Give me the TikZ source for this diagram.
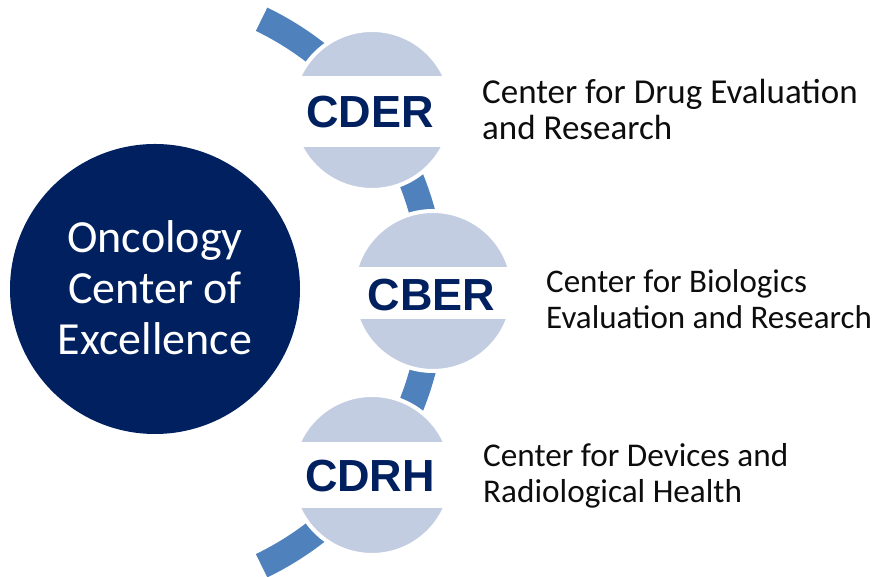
\documentclass[tikz,border=0pt]{standalone}
\usepackage{fontspec}
\setmainfont{Carlito}
\newfontfamily\lsans{Liberation Sans}
\definecolor{navy}{HTML}{002060}
\definecolor{lightblue}{HTML}{C3CDE2}
\definecolor{arcblue}{HTML}{4F81BD}
\definecolor{txt}{HTML}{0D0D0D}
\begin{document}
\begin{tikzpicture}[x=1pt,y=1pt,
  bubble/.style={circle, fill=lightblue, draw=white, line width=4pt, minimum size=160pt, inner sep=0pt},
  abbr/.style={font=\lsans\bfseries\fontsize{45}{50}\selectfont, text=navy, inner sep=0pt},
  desc/.style={text=txt, align=left, anchor=base west, inner sep=0pt},
]
\useasboundingbox (0,0) rectangle (878,577);
% blue arc
\draw[arcblue, line width=26pt] (129.5,284.5) ++(-64.2:303.5) arc[start angle=-64.2, end angle=64.2, radius=303.5];
% main circle
\node[circle, fill=navy, minimum size=290pt, inner sep=0pt] (occe) at (155,288) {};
\node[font=\fontsize{46}{51}\selectfont, text=white, align=center] (occelbl) at (155,289) {Oncology\\Center of\\Excellence};
% centre circles
\node[bubble] (cder) at (372,467) {};
\node[bubble] (cber) at (433,286) {};
\node[bubble] (cdrh) at (372,102) {};
\begin{scope}
  \clip (cder.center) circle[radius=80pt];
  \fill[white] ([xshift=-82pt,yshift=-37pt]cder.center) rectangle ([xshift=82pt,yshift=34pt]cder.center);
\end{scope}
\begin{scope}
  \clip (cber.center) circle[radius=80pt];
  \fill[white] ([xshift=-82pt,yshift=-28pt]cber.center) rectangle ([xshift=82pt,yshift=24pt]cber.center);
\end{scope}
\begin{scope}
  \clip (cdrh.center) circle[radius=80pt];
  \fill[white] ([xshift=-82pt,yshift=-33pt]cdrh.center) rectangle ([xshift=82pt,yshift=33pt]cdrh.center);
\end{scope}
\node[abbr] (cderlbl) at (370,465) {CDER};
\node[abbr] (cberlbl) at (431.5,282) {CBER};
\node[abbr] (cdrhlbl) at (370,101) {CDRH};
% descriptions
\node[desc, font=\fontsize{35}{36}\selectfont] (cderdesc) at (482,437) {Center for Drug Evaluation\\and Research};
\node[desc, font=\fontsize{33}{36}\selectfont] (cberdesc) at (546,248) {Center for Biologics\\Evaluation and Research};
\node[desc, font=\fontsize{33.2}{36}\selectfont] (cdrhdesc) at (483,74) {Center for Devices and\\Radiological Health};
\end{tikzpicture}
\end{document}
